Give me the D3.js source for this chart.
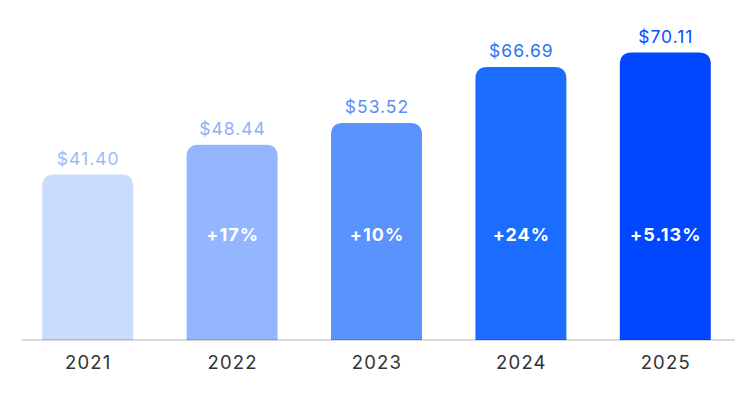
<!DOCTYPE html>
<html>
<head>
<meta charset="utf-8">
<script src="https://cdn.jsdelivr.net/npm/d3@7"></script>
<style>
  body { margin: 0; background: #fff; }
  text { font-family: Inter, "Noto Sans", sans-serif; }
</style>
</head>
<body>
<div id="chart"></div>
<script>
var years = ["2021", "2022", "2023", "2024", "2025"];
var prices = [41.40, 48.44, 53.52, 66.69, 70.11];
var growth = ["", "+17%", "+10%", "+24%", "+5.13%"];
var barColors = ["#cadcfe", "#94b6fe", "#5a92fe", "#1a6dff", "#0047ff"];
var labelColors = ["#9cbaf8", "#8fb0f8", "#5a8ff6", "#2a74f6", "#0a4cff"];

var svgWidth = 753;
var svgHeight = 396;
var baseline = 340;

var svg = d3.select("#chart")
  .append("svg")
  .attr("width", svgWidth)
  .attr("height", svgHeight);

var data = years.map(function(y, i) {
  return { year: y, price: prices[i], growth: growth[i], color: barColors[i], label: labelColors[i] };
});

var x = d3.scaleBand()
  .domain(years)
  .range([15.5, 737.5])
  .paddingInner(0.37)
  .paddingOuter(0.185);

var y = d3.scaleLinear()
  .domain([2.5, 70.11])
  .range([baseline, 52.5]);

// bars, rounded on top only
function barPath(d) {
  var x0 = x(d.year), w = x.bandwidth(), y0 = y(d.price), r = 12;
  return "M" + x0 + "," + baseline +
    "V" + (y0 + r) +
    "Q" + x0 + "," + y0 + " " + (x0 + r) + "," + y0 +
    "H" + (x0 + w - r) +
    "Q" + (x0 + w) + "," + y0 + " " + (x0 + w) + "," + (y0 + r) +
    "V" + baseline + "Z";
}

svg.selectAll(".bar")
  .data(data)
  .enter()
  .append("path")
  .attr("class", "bar")
  .attr("d", barPath)
  .attr("fill", d => d.color);

// axis line
svg.append("line")
  .attr("x1", 22)
  .attr("x2", 735)
  .attr("y1", baseline)
  .attr("y2", baseline)
  .attr("stroke", "rgba(0,0,0,0.2)")
  .attr("stroke-width", 1.5);

// value labels
svg.selectAll(".value")
  .data(data)
  .enter()
  .append("text")
  .attr("x", d => x(d.year) + x.bandwidth() / 2 + 0.5)
  .attr("y", d => y(d.price) - 10)
  .attr("text-anchor", "middle")
  .attr("font-size", 17.5)
  .attr("letter-spacing", 1)
  .attr("fill", d => d.label)
  .text(d => "$" + d.price.toFixed(2));

// growth labels inside bars
svg.selectAll(".growth")
  .data(data.filter(d => d.growth))
  .enter()
  .append("text")
  .attr("x", d => x(d.year) + x.bandwidth() / 2 + 0.5)
  .attr("y", 241)
  .attr("text-anchor", "middle")
  .attr("font-size", 18)
  .attr("font-weight", 700)
  .attr("letter-spacing", 1)
  .attr("fill", "#fff")
  .text(d => d.growth);

// year labels
svg.selectAll(".year")
  .data(data)
  .enter()
  .append("text")
  .attr("x", d => x(d.year) + x.bandwidth() / 2 + 0.5)
  .attr("y", 369)
  .attr("text-anchor", "middle")
  .attr("font-size", 18.5)
  .attr("letter-spacing", 1.2)
  .attr("fill", "#333")
  .text(d => d.year);
</script>
</body>
</html>
